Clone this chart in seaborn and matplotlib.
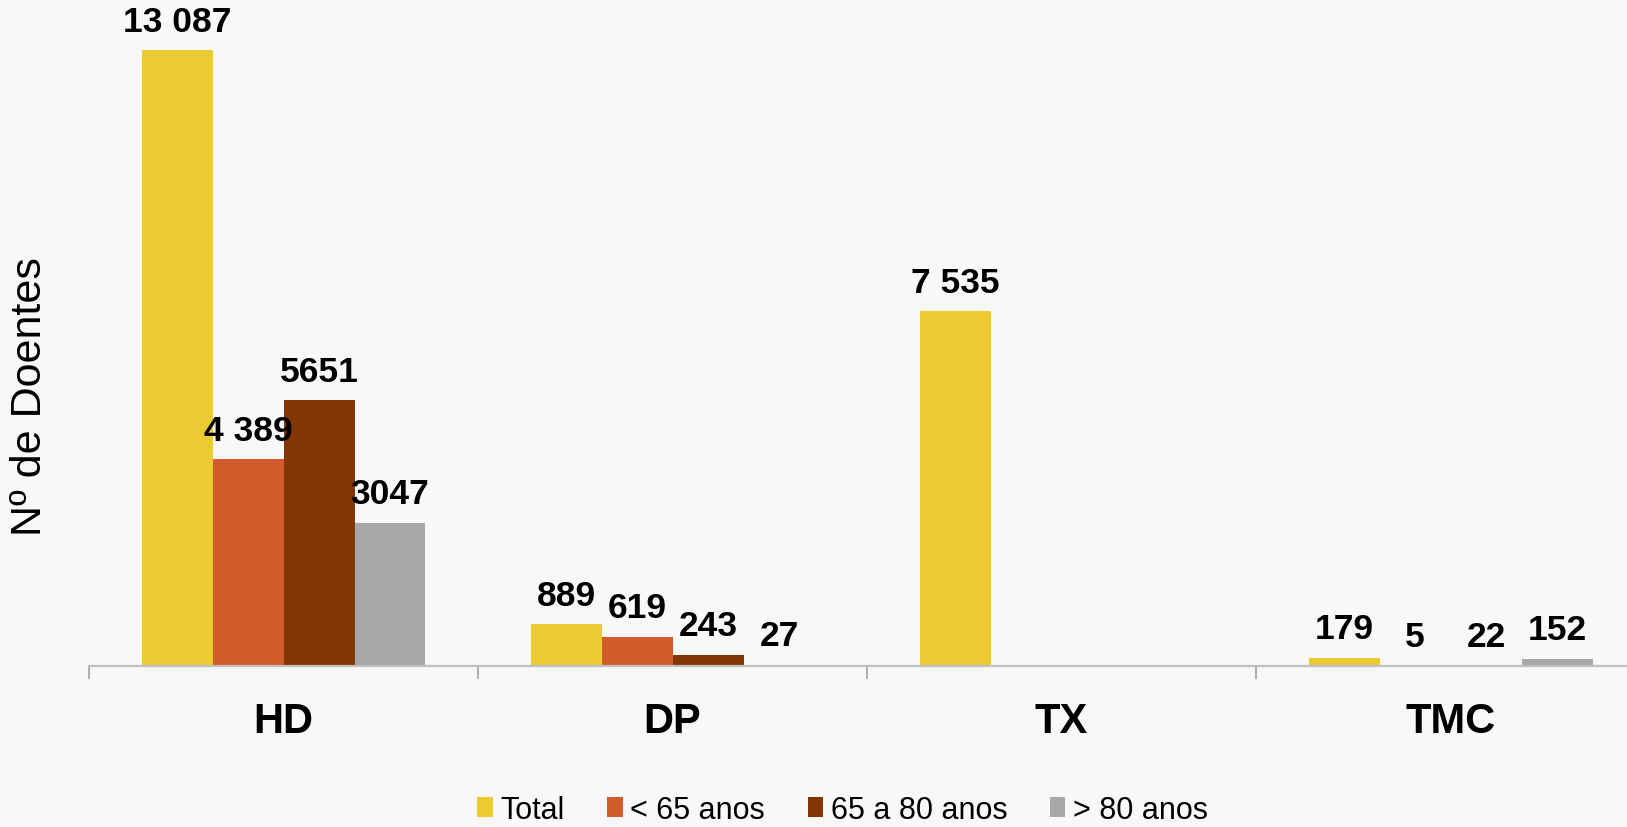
import numpy as np
import pandas as pd
import matplotlib.pyplot as plt
import seaborn as sns

# Dados (nº de doentes por modalidade e faixa etária)
categorias = ['HD', 'DP', 'TX', 'TMC']
series = ['Total', '< 65 anos', '65 a 80 anos', '> 80 anos']
total = [13087, 889, 7535, 179]
menos_65 = [4389, 619, np.nan, 5]
de_65_a_80 = [5651, 243, np.nan, 22]
mais_80 = [3047, 27, np.nan, 152]

rotulos_total = ['13 087', '889', '7 535', '179']
rotulos_menos_65 = ['4 389', '619', '', '5']
rotulos_65_80 = ['5651', '243', '', '22']
rotulos_mais_80 = ['3047', '27', '', '152']

cores = ['#EBCB31', '#D35B2B', '#833504', '#A8A8A8']
fundo = '#F8F8F8'

valores = [total, menos_65, de_65_a_80, mais_80]
rotulos = dict(zip(series, [rotulos_total, rotulos_menos_65, rotulos_65_80, rotulos_mais_80]))

linhas = []
for s, vals in zip(series, valores):
    for c, v in zip(categorias, vals):
        linhas.append({'categoria': c, 'serie': s, 'doentes': v})
df = pd.DataFrame(linhas).dropna()

sns.set_theme(style='white')
plt.rcParams['font.family'] = ['Liberation Sans', 'DejaVu Sans']
plt.rcParams['text.color'] = 'black'
plt.rcParams['axes.labelcolor'] = 'black'
plt.rcParams['xtick.color'] = 'black'

fig = plt.figure(figsize=(16.27, 8.28), dpi=100, facecolor=fundo)
ax = fig.add_axes([0.0547, 0.1944, 0.9564, 0.7959])
ax.set_facecolor(fundo)

sns.barplot(data=df, x='categoria', y='doentes', hue='serie', order=categorias,
            hue_order=series, palette=cores, width=0.73, errorbar=None,
            saturation=1, linewidth=0, ax=ax)

# rótulos de valor
for cont, s in zip(ax.containers, series):
    labs = []
    for b in cont:
        i = int(round(b.get_x() + b.get_width() / 2))
        labs.append(rotulos[s][i])
    ax.bar_label(cont, labels=labs, padding=9, fontsize=25.5, fontweight='bold', color='black')

ax.set_xlim(-0.5, 3.5)
ax.set_ylim(0, 14000)
ax.set_yticks([])
ax.set_xticks(range(len(categorias)))
ax.set_xticklabels(categorias, fontsize=30, fontweight='bold', color='black')
ax.set_xticks([-0.5, 0.5, 1.5, 2.5, 3.5], minor=True)
ax.tick_params(axis='x', which='major', length=0, pad=25)
ax.tick_params(axis='x', which='minor', length=9.5, width=1.2, color='#A0A0A0', direction='out', bottom=True)
ax.set_xlabel('')
ax.set_ylabel('Nº de Doentes', fontsize=31, color='black')
ax.yaxis.set_label_coords(-0.025, 0.41)

for lado in ['top', 'right', 'left']:
    ax.spines[lado].set_visible(False)
ax.spines['bottom'].set_color('#C0C0C0')
ax.spines['bottom'].set_linewidth(1.6)

handles, labels = ax.get_legend_handles_labels()
ax.get_legend().remove()
leg = fig.legend(handles, labels, loc='center', bbox_to_anchor=(0.518, 0.021), ncol=4,
                 frameon=False, fontsize=22, handlelength=0.5, handleheight=0.6,
                 handletextpad=0.25, columnspacing=1.4)
for t in leg.get_texts():
    t.set_color('black')

fig.savefig('out.png', dpi=100, facecolor=fundo)
